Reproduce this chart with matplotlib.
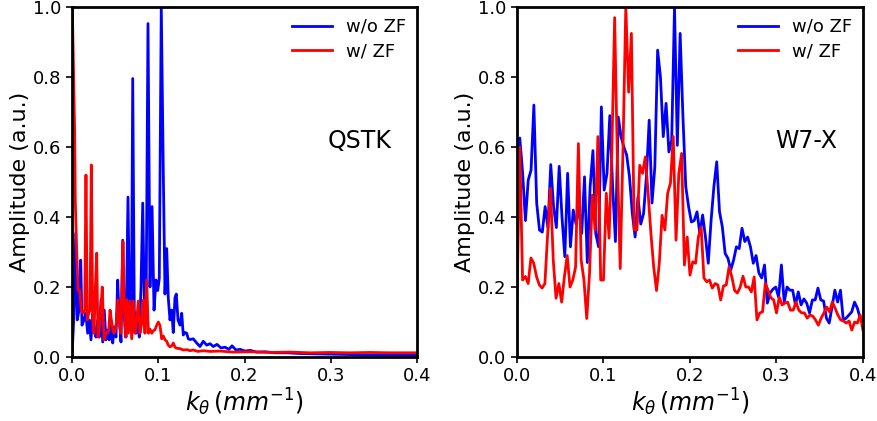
import numpy as np
import matplotlib
matplotlib.use("Agg")
import matplotlib.pyplot as plt

# ---- QSTK panel (left) ----
qstk_k_wo = [0.0, 0.0023, 0.0043, 0.0061, 0.0081, 0.0101, 0.0116, 0.0139, 0.0159, 0.0182,
             0.0201, 0.0220, 0.0240, 0.0259, 0.0278, 0.0298, 0.0317, 0.0336, 0.0356, 0.0374,
             0.0394, 0.0414, 0.0432, 0.0452, 0.0472, 0.0490, 0.0510, 0.0530, 0.0548, 0.0568,
             0.0588, 0.0606, 0.0626, 0.0649, 0.0669, 0.0688, 0.0704, 0.0722, 0.0742, 0.0762,
             0.0780, 0.0800, 0.0820, 0.0838, 0.0858, 0.0881, 0.0904, 0.0928, 0.0951, 0.0974,
             0.0994, 0.1012, 0.1035, 0.1060, 0.1078, 0.1098, 0.1116, 0.1136, 0.1156, 0.1174,
             0.1194, 0.1209, 0.1229, 0.1252, 0.1272, 0.1290, 0.1310, 0.1330, 0.1348, 0.1368,
             0.1406, 0.1446, 0.1484, 0.1522, 0.1562, 0.1600, 0.1638, 0.1681, 0.1728, 0.1774,
             0.1820, 0.1855, 0.1901, 0.1948, 0.2006, 0.2064, 0.2145, 0.2238, 0.2354, 0.2493,
             0.2643, 0.2817, 0.3026, 0.3223, 0.3420, 0.3629, 0.3803, 0.4]
qstk_wo = [0.0, 0.125, 0.354, 0.106, 0.134, 0.277, 0.091, 0.106, 0.125, 0.068,
           0.106, 0.049, 0.125, 0.077, 0.057, 0.106, 0.057, 0.163, 0.043, 0.134,
           0.049, 0.077, 0.049, 0.106, 0.040, 0.086, 0.057, 0.220, 0.106, 0.043,
           0.334, 0.115, 0.057, 0.457, 0.106, 0.080, 0.796, 0.134, 0.068, 0.106,
           0.057, 0.200, 0.440, 0.163, 0.106, 0.953, 0.200, 0.430, 0.134, 0.220,
           0.190, 0.225, 1.000, 0.500, 0.180, 0.310, 0.170, 0.106, 0.134, 0.070,
           0.170, 0.180, 0.106, 0.091, 0.125, 0.063, 0.070, 0.068, 0.052, 0.050,
           0.052, 0.040, 0.030, 0.045, 0.034, 0.038, 0.030, 0.036, 0.026, 0.028,
           0.022, 0.032, 0.020, 0.022, 0.017, 0.019, 0.014, 0.015, 0.012, 0.012,
           0.010, 0.009, 0.008, 0.007, 0.006, 0.006, 0.005, 0.005]

qstk_k_w = [0.0, 0.0031, 0.0038, 0.0050, 0.0070, 0.0089, 0.0108, 0.0128, 0.0147, 0.0162,
            0.0177, 0.0194, 0.0209, 0.0224, 0.0240, 0.0255, 0.0270, 0.0286, 0.0301, 0.0317,
            0.0333, 0.0351, 0.0371, 0.0391, 0.0409, 0.0426, 0.0441, 0.0456, 0.0472, 0.0487,
            0.0502, 0.0518, 0.0533, 0.0548, 0.0565, 0.0580, 0.0591, 0.0603, 0.0618, 0.0634,
            0.0653, 0.0672, 0.0692, 0.0711, 0.0730, 0.0750, 0.0769, 0.0788, 0.0808, 0.0827,
            0.0846, 0.0866, 0.0885, 0.0904, 0.0924, 0.0943, 0.0962, 0.0982, 0.1001, 0.1020,
            0.1040, 0.1059, 0.1078, 0.1098, 0.1116, 0.1136, 0.1156, 0.1174, 0.1194, 0.1214,
            0.1252, 0.1290, 0.1330, 0.1368, 0.1406, 0.1461, 0.1522, 0.1600, 0.1716, 0.1867,
            0.2064, 0.2296, 0.2528, 0.2759, 0.2991, 0.3223, 0.3455, 0.3687, 0.4]
qstk_w = [1.05, 0.640, 0.450, 0.334, 0.190, 0.190, 0.134, 0.125, 0.134, 0.520,
          0.106, 0.125, 0.134, 0.549, 0.106, 0.068, 0.190, 0.297, 0.057, 0.080,
          0.134, 0.200, 0.049, 0.068, 0.068, 0.077, 0.134, 0.106, 0.080, 0.068,
          0.077, 0.106, 0.163, 0.106, 0.068, 0.210, 0.330, 0.163, 0.057, 0.163,
          0.068, 0.160, 0.052, 0.160, 0.068, 0.106, 0.160, 0.068, 0.096, 0.163,
          0.068, 0.220, 0.068, 0.080, 0.068, 0.075, 0.078, 0.091, 0.100, 0.090,
          0.052, 0.060, 0.049, 0.045, 0.034, 0.029, 0.032, 0.040, 0.028, 0.025,
          0.024, 0.020, 0.021, 0.018, 0.020, 0.016, 0.018, 0.016, 0.017, 0.014,
          0.015, 0.013, 0.014, 0.012, 0.013, 0.012, 0.013, 0.012, 0.012]

# ---- W7-X panel (right), evenly sampled spectra ----
w7x_wo = [0.580, 0.626, 0.526, 0.390, 0.506, 0.534, 0.720, 0.440, 0.363, 0.357,
          0.430, 0.370, 0.550, 0.430, 0.370, 0.545, 0.400, 0.287, 0.525, 0.315,
          0.420, 0.380, 0.430, 0.353, 0.515, 0.270, 0.487, 0.590, 0.353, 0.315,
          0.715, 0.477, 0.525, 0.690, 0.487, 0.330, 0.686, 0.630, 0.600, 0.577,
          0.515, 0.410, 0.343, 0.457, 0.380, 0.410, 0.515, 0.677, 0.440, 0.543,
          0.877, 0.800, 0.630, 0.725, 0.586, 0.620, 1.000, 0.605, 0.925, 0.686,
          0.487, 0.430, 0.386, 0.390, 0.415, 0.353, 0.406, 0.343, 0.268, 0.390,
          0.487, 0.558, 0.415, 0.372, 0.296, 0.282, 0.249, 0.277, 0.315, 0.310,
          0.368, 0.330, 0.343, 0.315, 0.268, 0.290, 0.240, 0.226, 0.263, 0.154,
          0.183, 0.194, 0.200, 0.171, 0.263, 0.157, 0.200, 0.191, 0.191, 0.149,
          0.186, 0.149, 0.166, 0.154, 0.126, 0.163, 0.163, 0.197, 0.163, 0.160,
          0.111, 0.097, 0.143, 0.191, 0.157, 0.191, 0.106, 0.111, 0.120, 0.129,
          0.157, 0.140, 0.111, 0.106]
w7x_w = [0.163, 0.600, 0.220, 0.230, 0.210, 0.283, 0.268, 0.230, 0.206, 0.197,
         0.210, 0.353, 0.482, 0.277, 0.168, 0.210, 0.157, 0.230, 0.290, 0.200,
         0.220, 0.257, 0.610, 0.277, 0.220, 0.110, 0.240, 0.463, 0.363, 0.630,
         0.220, 0.220, 0.468, 0.340, 0.590, 0.970, 0.553, 0.253, 0.600, 1.000,
         0.757, 0.925, 0.363, 0.363, 0.548, 0.525, 0.572, 0.468, 0.353, 0.257,
         0.190, 0.268, 0.405, 0.363, 0.468, 0.497, 0.630, 0.334, 0.525, 0.582,
         0.263, 0.343, 0.234, 0.272, 0.268, 0.343, 0.372, 0.226, 0.215, 0.220,
         0.197, 0.210, 0.206, 0.163, 0.203, 0.206, 0.257, 0.229, 0.190, 0.183,
         0.200, 0.231, 0.200, 0.200, 0.186, 0.229, 0.106, 0.126, 0.129, 0.210,
         0.191, 0.169, 0.163, 0.126, 0.171, 0.149, 0.154, 0.157, 0.134, 0.134,
         0.157, 0.134, 0.126, 0.126, 0.111, 0.120, 0.117, 0.106, 0.091, 0.111,
         0.126, 0.143, 0.129, 0.157, 0.140, 0.120, 0.106, 0.103, 0.097, 0.103,
         0.077, 0.100, 0.097, 0.120, 0.077]

labels = ['w/o ZF', 'w/ ZF']
xticks = [0.0, 0.1, 0.2, 0.3, 0.4]
yticks = [0.0, 0.2, 0.4, 0.6, 0.8, 1.0]

fig = plt.figure(figsize=(8.77, 4.21), dpi=100)
ax1 = fig.add_axes([0.0821, 0.152, 0.3934, 0.831])
ax2 = fig.add_axes([0.5895, 0.152, 0.3945, 0.831])

ax1.plot(qstk_k_wo, qstk_wo, 'b-', lw=2, label=labels[0])
ax1.plot(qstk_k_w, qstk_w, 'r-', lw=2, label=labels[1])

k_wo = np.linspace(0, 0.4, len(w7x_wo))
k_w = np.linspace(0, 0.4, len(w7x_w))
ax2.plot(k_wo, w7x_wo, 'b-', lw=2, label=labels[0])
ax2.plot(k_w, w7x_w, 'r-', lw=2, label=labels[1])

for ax, name in [(ax1, 'QSTK'), (ax2, 'W7-X')]:
    ax.set_xlim(0, 0.4)
    ax.set_ylim(0, 1.0)
    ax.set_xticks(xticks)
    ax.set_yticks(yticks)
    ax.tick_params(labelsize=13, width=1.2, length=4)
    for s in ax.spines.values():
        s.set_linewidth(2)
    ax.set_xlabel(r'$k_{\theta}\,(mm^{-1})$', fontsize=17, labelpad=1)
    ax.set_ylabel('Amplitude (a.u.)', fontsize=16, labelpad=2)
    ax.legend(loc='upper right', frameon=False, fontsize=13, handlelength=2.2,
              borderaxespad=0.2, labelspacing=0.35)
    ax.text(0.835, 0.617, name, transform=ax.transAxes, fontsize=17,
            ha='center', va='center')

fig.savefig('out.png', dpi=100)
